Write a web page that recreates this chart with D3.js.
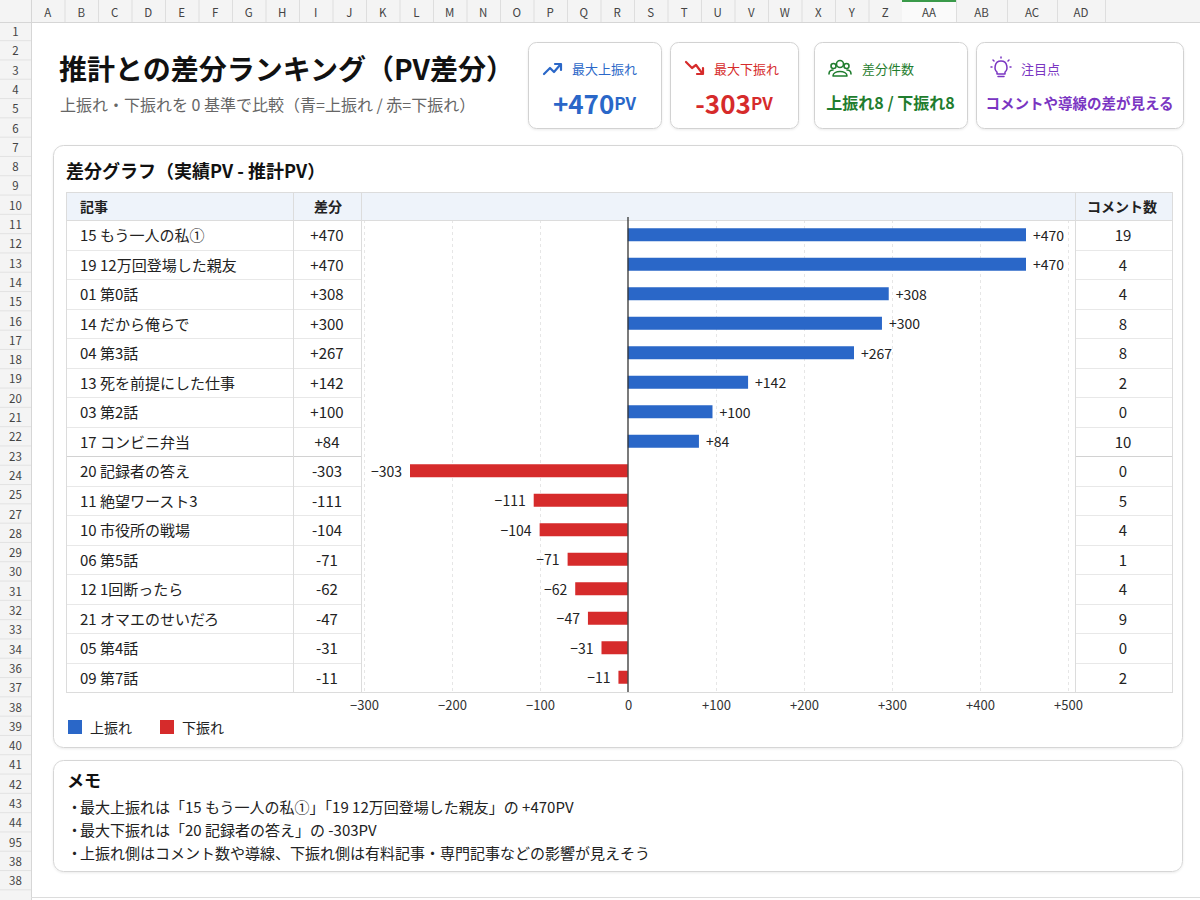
<!DOCTYPE html>
<html>
<head>
<meta charset="utf-8">
<script src="https://cdn.jsdelivr.net/npm/d3@7"></script>
<style>
  html, body { margin: 0; padding: 0; background: #fff; }
  svg { display: block; font-family: "Noto Sans CJK JP", "Noto Sans", sans-serif; }
</style>
</head>
<body>
<svg id="chart" width="1200" height="900"></svg>
<script>
// ---------- data ----------
const articles = ["15 もう一人の私①", "19 12万回登場した親友", "01 第0話", "14 だから俺らで", "04 第3話", "13 死を前提にした仕事", "03 第2話", "17 コンビニ弁当", "20 記録者の答え", "11 絶望ワースト3", "10 市役所の戦場", "06 第5話", "12 1回断ったら", "21 オマエのせいだろ", "05 第4話", "09 第7話"];
const diffs = [470, 470, 308, 300, 267, 142, 100, 84, -303, -111, -104, -71, -62, -47, -31, -11];
const comments = [19, 4, 4, 8, 8, 2, 0, 10, 0, 5, 4, 1, 4, 9, 0, 2];
const xTicks = [-300, -200, -100, 0, 100, 200, 300, 400, 500];
const legendLabels = ["上振れ", "下振れ"];
const colLetters = ["A","B","C","D","E","F","G","H","I","J","K","L","M","N","O","P","Q","R","S","T","U","V","W","X","Y","Z","AA","AB","AC","AD"];
const rowLabels = ["1","2","3","4","5","6","7","8","9","10","11","12","13","14","15","16","17","18","19","20","21","22","23","24","25","27","28","29","30","31","32","33","34","36","37","38","39","40","41","42","43","44","95","38","38"];
const kpiLabels = ["最大上振れ", "最大下振れ", "差分件数", "注目点"];
const memoLines = [
  "最大上振れは「15 もう一人の私①」「19 12万回登場した親友」の +470PV",
  "最大下振れは「20 記録者の答え」の -303PV",
  "上振れ側はコメント数や導線、下振れ側は有料記事・専門記事などの影響が見えそう"
];

const BLUE = "#2a67c8", RED = "#d62b2b", GREEN = "#1f7d2e", PURPLE = "#7a35c2";
const svg = d3.select("#chart");

// ---------- spreadsheet frame ----------
const colWidths = colLetters.map((c, i) => i < 26 ? 33.5 : [54, 51, 50, 48][i - 26]);
let cx = 31;
const colEdges = colWidths.map(w => { const s = cx; cx += w; return [s, cx]; });
svg.append("rect").attr("x", 0).attr("y", 0).attr("width", 1200).attr("height", 22).attr("fill", "#f4f4f4");
svg.append("rect").attr("x", 0).attr("y", 0).attr("width", 31).attr("height", 900).attr("fill", "#f4f4f4");
svg.append("line").attr("x1", 0).attr("x2", 1200).attr("y1", 22.5).attr("y2", 22.5).attr("stroke", "#d6d6d6");
svg.append("line").attr("x1", 31.5).attr("x2", 31.5).attr("y1", 0).attr("y2", 900).attr("stroke", "#d6d6d6");
const colG = svg.append("g");
colEdges.forEach(([s, e], i) => {
  if (colLetters[i] === "AA") {
    colG.append("rect").attr("x", s).attr("y", 0).attr("width", e - s).attr("height", 22).attr("fill", "#fafafa");
    colG.append("rect").attr("x", s).attr("y", 0).attr("width", e - s).attr("height", 2).attr("fill", "#3a9a4a");
  }
  colG.append("line").attr("x1", e + 0.5).attr("x2", e + 0.5).attr("y1", 0).attr("y2", 22).attr("stroke", "#dedede");
  colG.append("text").attr("x", (s + e) / 2).attr("y", 12).attr("text-anchor", "middle")
    .attr("dominant-baseline", "central").attr("font-size", 11.5).attr("fill", "#444").text(colLetters[i]);
});
const rowG = svg.append("g");
rowLabels.forEach((r, i) => {
  const yc = 31 + i * 19.3;
  rowG.append("line").attr("x1", 0).attr("x2", 31).attr("y1", yc + 9.65).attr("y2", yc + 9.65).attr("stroke", "#e2e2e2");
  rowG.append("text").attr("x", 15.5).attr("y", yc).attr("text-anchor", "middle")
    .attr("dominant-baseline", "central").attr("font-size", 11.5).attr("fill", "#444").text(r);
});
svg.append("line").attr("x1", 31).attr("x2", 1200).attr("y1", 897.5).attr("y2", 897.5).attr("stroke", "#dcdcdc");

// ---------- title ----------
svg.append("text").attr("x", 59).attr("y", 80).attr("font-size", 28).attr("font-weight", 700)
  .attr("fill", "#111").text("推計との差分ランキング（PV差分）");
svg.append("text").attr("x", 60).attr("y", 111).attr("font-size", 16).attr("fill", "#666")
  .text("上振れ・下振れを 0 基準で比較（青=上振れ / 赤=下振れ）");

// ---------- KPI cards ----------
const cards = [
  { x: 528, w: 133, color: BLUE, iconX: 544, labelX: 572 },
  { x: 670, w: 128, color: RED, iconX: 686, labelX: 714 },
  { x: 814, w: 153, color: GREEN, iconX: 831, labelX: 862 },
  { x: 976, w: 207, color: PURPLE, iconX: 992, labelX: 1021 }
];
const defs = svg.append("defs");
const f = defs.append("filter").attr("id", "sh").attr("x", "-10%").attr("y", "-10%").attr("width", "120%").attr("height", "130%");
f.append("feDropShadow").attr("dx", 0).attr("dy", 1).attr("stdDeviation", 1.2).attr("flood-color", "#000").attr("flood-opacity", 0.08);

cards.forEach((c, i) => {
  const g = svg.append("g");
  g.append("rect").attr("x", c.x + 0.5).attr("y", 42.5).attr("width", c.w).attr("height", 86).attr("rx", 8)
    .attr("fill", "#fff").attr("stroke", "#d2d2d2").attr("filter", "url(#sh)");
  g.append("text").attr("x", c.labelX).attr("y", 68).attr("dominant-baseline", "central")
    .attr("font-size", 13).attr("fill", c.color).text(kpiLabels[i]);
  const ic = g.append("g").attr("transform", `translate(${c.iconX},${68})`)
    .attr("fill", "none").attr("stroke", c.color).attr("stroke-width", 2.2).attr("stroke-linecap", "round").attr("stroke-linejoin", "round");
  if (i === 0) {
    ic.append("path").attr("d", "M0,6 L6,0 L10,4 L16,-3");
    ic.append("path").attr("d", "M11,-4 L17,-4 L17,2");
  } else if (i === 1) {
    ic.append("path").attr("d", "M0,-6 L6,0 L10,-3 L16,5");
    ic.append("path").attr("d", "M11,6 L17,6 L17,0");
  } else if (i === 2) {
    ic.attr("stroke-width", 1.6);
    ic.append("circle").attr("cx", 9).attr("cy", -4).attr("r", 3.5);
    ic.append("path").attr("d", "M2,8 C2,2 16,2 16,8 Z");
    ic.append("circle").attr("cx", 2.5).attr("cy", -2).attr("r", 2.5);
    ic.append("circle").attr("cx", 15.5).attr("cy", -2).attr("r", 2.5);
    ic.append("path").attr("d", "M-2,6 C-2,3 0,2 2,2");
    ic.append("path").attr("d", "M20,6 C20,3 18,2 16,2");
  } else {
    ic.attr("stroke-width", 1.5);
    ic.append("path").attr("d", "M5,4 C2,2 2,-7 9,-7 C16,-7 16,2 13,4 L13,6 L5,6 Z");
    ic.append("path").attr("d", "M6,8.5 L12,8.5");
    ic.append("path").attr("d", "M9,-11 L9,-10 M1,-8 L2,-7 M17,-8 L16,-7 M-1,-1 L0,-1 M18,-1 L19,-1");
  }
  const vt = g.append("text").attr("x", c.x + c.w / 2).attr("y", 102).attr("text-anchor", "middle")
    .attr("dominant-baseline", "central").attr("fill", c.color).attr("font-weight", 700);
  if (i === 0 || i === 1) {
    const v = i === 0 ? d3.max(diffs) : d3.min(diffs);
    vt.append("tspan").attr("font-size", 26).text((v > 0 ? "+" : "-") + Math.abs(v));
    vt.append("tspan").attr("font-size", 17).text("PV");
  } else if (i === 2) {
    const up = diffs.filter(d => d > 0).length, dn = diffs.filter(d => d < 0).length;
    vt.attr("font-size", 16).text(`上振れ${up} / 下振れ${dn}`);
  } else {
    vt.attr("font-size", 14.5).text("コメントや導線の差が見える");
  }
});

// ---------- main panel ----------
svg.append("rect").attr("x", 53.5).attr("y", 145.5).attr("width", 1129).attr("height", 602).attr("rx", 10)
  .attr("fill", "#fff").attr("stroke", "#d6d6d6").attr("filter", "url(#sh)");
svg.append("text").attr("x", 66).attr("y", 170).attr("dominant-baseline", "central").attr("font-size", 18)
  .attr("font-weight", 700).attr("fill", "#111").text("差分グラフ（実績PV - 推計PV）");

const T = { left: 66, right: 1172, top: 192, head: 220, bottom: 692, c1: 293, c2: 361, c3: 1075 };
const y = d3.scaleBand().domain(articles).range([T.head, T.bottom]);
// axis scale (tick labels / gridlines)
const x = d3.scaleLinear().domain([-300, 500]).range([364, 1068]);
// bar scale as drawn in the reference (long negative bar clamped to leave room for its label)
const xb = d3.scaleLinear().domain([-257, 470]).range([410, 1026]).clamp(true);

// header band
svg.append("rect").attr("x", T.left).attr("y", T.top).attr("width", T.right - T.left).attr("height", T.head - T.top)
  .attr("fill", "#eef3fa");
const hdr = svg.append("g").attr("font-size", 14).attr("font-weight", 700).attr("fill", "#222").attr("dominant-baseline", "central");
hdr.append("text").attr("x", 80).attr("y", 206).text("記事");
hdr.append("text").attr("x", 328).attr("y", 206).attr("text-anchor", "middle").text("差分");
hdr.append("text").attr("x", 1122).attr("y", 206).attr("text-anchor", "middle").text("コメント数");

// gridlines
const grid = svg.append("g");
grid.selectAll("line").data(xTicks.filter(t => t !== 0)).join("line")
  .attr("x1", d => Math.round(x(d)) + 0.5).attr("x2", d => Math.round(x(d)) + 0.5).attr("y1", T.head).attr("y2", T.bottom)
  .attr("stroke", "#e6e6e6").attr("stroke-dasharray", "3,3");

// row lines
const rl = svg.append("g");
articles.forEach((a, i) => {
  if (i === 0) return;
  const yy = Math.round(y(a)) + 0.5;
  const col = i === 8 ? "#d2d2d2" : "#e8e8e8";
  rl.append("line").attr("x1", T.left).attr("x2", T.c2).attr("y1", yy).attr("y2", yy).attr("stroke", col);
  rl.append("line").attr("x1", T.c3).attr("x2", T.right).attr("y1", yy).attr("y2", yy).attr("stroke", col);
});
// table borders
const tb = svg.append("g").attr("stroke", "#dcdcdc").attr("fill", "none");
tb.append("rect").attr("x", T.left + 0.5).attr("y", T.top + 0.5).attr("width", T.right - T.left).attr("height", T.bottom - T.top);
tb.append("line").attr("x1", T.left).attr("x2", T.right).attr("y1", T.head + 0.5).attr("y2", T.head + 0.5);
[T.c1, T.c2, T.c3].forEach(cxv => tb.append("line").attr("x1", cxv + 0.5).attr("x2", cxv + 0.5).attr("y1", T.top).attr("y2", T.bottom));

// table text
const rows = svg.append("g").attr("font-size", 15).attr("fill", "#222").attr("dominant-baseline", "central");
const fmtTable = v => (v > 0 ? "+" : "") + v;
articles.forEach((a, i) => {
  const yc = y(a) + y.bandwidth() / 2;
  rows.append("text").attr("x", 80).attr("y", yc).text(a);
  rows.append("text").attr("x", 327).attr("y", yc).attr("text-anchor", "middle").text(fmtTable(diffs[i]));
  rows.append("text").attr("x", 1123).attr("y", yc).attr("text-anchor", "middle").text(comments[i]);
});

// bars
const barH = 13;
const fmtBar = v => v === 0 ? "0" : (v > 0 ? "+" + v : "\u2212" + Math.abs(v));
const bars = svg.append("g");
articles.forEach((a, i) => {
  const v = diffs[i];
  const yc = y(a) + y.bandwidth() / 2;
  bars.append("rect").attr("x", Math.min(xb(0), xb(v))).attr("y", yc - barH / 2)
    .attr("width", Math.abs(xb(v) - xb(0))).attr("height", barH).attr("fill", v > 0 ? BLUE : RED);
  bars.append("text").attr("x", v > 0 ? xb(v) + 7 : xb(v) - 8).attr("y", yc)
    .attr("text-anchor", v > 0 ? "start" : "end").attr("dominant-baseline", "central")
    .attr("font-size", 14).attr("fill", "#222").text(fmtBar(v));
});

// zero line
svg.append("line").attr("x1", x(0)).attr("x2", x(0)).attr("y1", T.head - 3).attr("y2", T.bottom)
  .attr("stroke", "#333").attr("stroke-width", 1.3);

// axis
const axis = d3.axisBottom(x).tickValues(xTicks).tickSize(0).tickPadding(0).tickFormat(fmtBar);
const ag = svg.append("g").attr("transform", `translate(0,${T.bottom + 9})`).call(axis);
ag.select(".domain").remove();
ag.selectAll("text").attr("font-size", 13).attr("fill", "#333").attr("font-family", "\"Noto Sans CJK JP\", sans-serif")
  .attr("dy", "0.71em");

// legend
const lg = svg.append("g");
[BLUE, RED].forEach((c, i) => {
  const lx = 68 + i * 92;
  lg.append("rect").attr("x", lx).attr("y", 720).attr("width", 14).attr("height", 14).attr("fill", c);
  lg.append("text").attr("x", lx + 22).attr("y", 727).attr("dominant-baseline", "central")
    .attr("font-size", 14).attr("fill", "#222").text(legendLabels[i]);
});

// ---------- memo ----------
svg.append("rect").attr("x", 53.5).attr("y", 760.5).attr("width", 1129).attr("height", 111).attr("rx", 10)
  .attr("fill", "#fff").attr("stroke", "#d6d6d6").attr("filter", "url(#sh)");
svg.append("text").attr("x", 67).attr("y", 779).attr("dominant-baseline", "central").attr("font-size", 17)
  .attr("font-weight", 700).attr("fill", "#111").text("メモ");
memoLines.forEach((m, i) => {
  const yy = 806 + i * 23.3;
  svg.append("text").attr("x", 67).attr("y", yy).attr("dominant-baseline", "central").attr("font-size", 15).attr("fill", "#222").text("・");
  svg.append("text").attr("x", 80).attr("y", yy).attr("dominant-baseline", "central").attr("font-size", 15).attr("fill", "#222").text(m);
});
</script>
</body>
</html>
